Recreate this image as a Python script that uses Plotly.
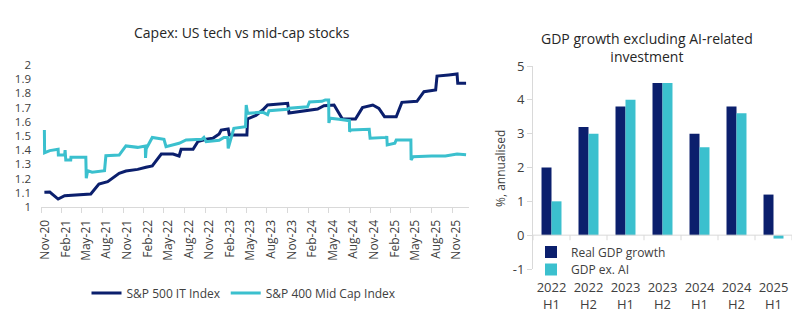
import plotly.graph_objects as go

# ---------------- Left chart data ----------------
it_dates = ["2020-11-16", "2020-12-10", "2021-01-16", "2021-02-14", "2021-06-10", "2021-07-16",
            "2021-08-24", "2021-10-14", "2021-11-13", "2022-01-04", "2022-02-10", "2022-03-10",
            "2022-04-19", "2022-06-10", "2022-07-07", "2022-07-16", "2022-09-07", "2022-09-28",
            "2022-11-04", "2022-12-04", "2023-01-01", "2023-01-10", "2023-02-10", "2023-02-15",
            "2023-05-04", "2023-05-07", "2023-06-13", "2023-07-13", "2023-08-04", "2023-09-25",
            "2023-11-01", "2023-11-07", "2024-01-19", "2024-03-13", "2024-04-10", "2024-05-25",
            "2024-07-01", "2024-08-28", "2024-09-28", "2024-10-19", "2024-11-13", "2024-12-10",
            "2025-01-04", "2025-02-25", "2025-03-22", "2025-05-28", "2025-06-28", "2025-08-19",
            "2025-08-25", "2025-10-16", "2025-11-22", "2025-11-25", "2026-01-01"]
it_values = [1.104, 1.105, 1.056, 1.080, 1.092, 1.162,
             1.178, 1.237, 1.253, 1.265, 1.280, 1.289,
             1.373, 1.373, 1.359, 1.406, 1.406, 1.460,
             1.477, 1.484, 1.514, 1.542, 1.549, 1.507,
             1.507, 1.620, 1.645, 1.683, 1.718, 1.725,
             1.730, 1.662, 1.678, 1.690, 1.713, 1.718,
             1.620, 1.620, 1.700, 1.706, 1.718, 1.695,
             1.636, 1.636, 1.737, 1.744, 1.812, 1.824,
             1.922, 1.930, 1.937, 1.871, 1.871]

mc_dates = ["2020-11-16", "2020-11-17", "2020-12-10", "2021-01-16", "2021-01-17", "2021-02-14",
            "2021-02-16", "2021-02-19", "2021-03-13", "2021-03-14", "2021-05-19", "2021-05-21",
            "2021-05-27", "2021-06-16", "2021-08-10", "2021-08-16", "2021-10-14", "2021-11-13",
            "2022-01-04", "2022-02-07", "2022-02-08", "2022-02-11", "2022-03-10", "2022-05-01",
            "2022-05-10", "2022-07-07", "2022-08-07", "2022-10-16", "2022-10-25", "2022-11-04",
            "2023-01-01", "2023-01-22", "2023-02-08", "2023-02-10", "2023-03-07", "2023-04-28",
            "2023-05-01", "2023-05-07", "2023-07-13", "2023-08-04", "2023-08-10", "2023-11-01",
            "2023-11-07", "2024-01-28", "2024-02-06", "2024-04-01", "2024-04-16", "2024-05-01",
            "2024-05-02", "2024-05-07", "2024-06-16", "2024-08-01", "2024-08-02", "2024-08-07",
            "2024-10-28", "2024-11-01", "2025-01-13", "2025-01-14", "2025-01-16", "2025-02-19",
            "2025-02-25", "2025-05-01", "2025-05-02", "2025-05-10", "2025-08-01", "2025-10-01",
            "2025-11-22", "2026-01-01"]
mc_values = [1.542, 1.382, 1.397, 1.406, 1.366, 1.366,
             1.400, 1.331, 1.331, 1.350, 1.350, 1.202,
             1.256, 1.245, 1.256, 1.361, 1.366, 1.430,
             1.420, 1.430, 1.345, 1.410, 1.490, 1.477,
             1.425, 1.449, 1.472, 1.477, 1.490, 1.460,
             1.470, 1.490, 1.490, 1.413, 1.554, 1.566,
             1.718, 1.660, 1.668, 1.650, 1.678, 1.688,
             1.695, 1.706, 1.740, 1.744, 1.754, 1.754,
             1.592, 1.625, 1.618, 1.608, 1.530, 1.542,
             1.547, 1.484, 1.490, 1.500, 1.437, 1.450,
             1.472, 1.472, 1.331, 1.354, 1.359, 1.359,
             1.373, 1.368]

x_tick_dates = ["2020-11-01", "2021-02-01", "2021-05-01", "2021-08-01", "2021-11-01", "2022-02-01",
                "2022-05-01", "2022-08-01", "2022-11-01", "2023-02-01", "2023-05-01", "2023-08-01",
                "2023-11-01", "2024-02-01", "2024-05-01", "2024-08-01", "2024-11-01", "2025-02-01",
                "2025-05-01", "2025-08-01", "2025-11-01"]
x_tick_labels = ["Nov-20", "Feb-21", "May-21", "Aug-21", "Nov-21", "Feb-22", "May-22", "Aug-22",
                 "Nov-22", "Feb-23", "May-23", "Aug-23", "Nov-23", "Feb-24", "May-24", "Aug-24",
                 "Nov-24", "Feb-25", "May-25", "Aug-25", "Nov-25"]
y_left_ticks = [1.0, 1.1, 1.2, 1.3, 1.4, 1.5, 1.6, 1.7, 1.8, 1.9, 2.0]

# ---------------- Right chart data ----------------
periods = ["2022<br>H1", "2022<br>H2", "2023<br>H1", "2023<br>H2", "2024<br>H1", "2024<br>H2", "2025<br>H1"]
real_gdp = [2.0, 3.2, 3.8, 4.5, 3.0, 3.8, 1.2]
gdp_ex_ai = [1.0, 3.0, 4.0, 4.5, 2.6, 3.6, -0.1]
y_right_ticks = [-1, 0, 1, 2, 3, 4, 5]
y_right_labels = ["-1", "0", "1", "2", "3", "4", "5"]

NAVY = "#0b1f6d"
TEAL = "#3bc0ce"
AXIS = "#d9d9d9"
TXT = "#404040"
FONT = "Open Sans"

W, H = 805, 323

fig = go.Figure()

fig.add_trace(go.Scatter(x=it_dates, y=it_values, mode="lines", name="S&P 500 IT Index",
                         line=dict(color=NAVY, width=3), xaxis="x", yaxis="y", legend="legend"))
fig.add_trace(go.Scatter(x=mc_dates, y=mc_values, mode="lines", name="S&P 400 Mid Cap Index",
                         line=dict(color=TEAL, width=3), xaxis="x", yaxis="y", legend="legend"))

fig.add_trace(go.Bar(x=periods, y=real_gdp, name="Real GDP growth", marker=dict(color=NAVY, line=dict(width=0)),
                     xaxis="x2", yaxis="y2", legend="legend2"))
fig.add_trace(go.Bar(x=periods, y=gdp_ex_ai, name="GDP ex. AI", marker=dict(color=TEAL, line=dict(width=0)),
                     xaxis="x2", yaxis="y2", legend="legend3"))

# Right chart: horizontal axis line at zero with tick marks between categories
shapes = [dict(type="line", xref="x2", yref="y2", x0=-0.5, x1=6.5, y0=0, y1=0,
               line=dict(color=AXIS, width=1), layer="above")]
for i in range(len(periods) + 1):
    shapes.append(dict(type="line", xref="x2", yref="y2", x0=i - 0.5, x1=i - 0.5, y0=0, y1=-0.15,
                       line=dict(color=AXIS, width=1), layer="above"))

legend_common = dict(bgcolor="rgba(0,0,0,0)", itemwidth=30, borderwidth=0)

fig.update_layout(
    width=W, height=H,
    margin=dict(l=0, r=0, t=0, b=0, pad=0, autoexpand=False),
    paper_bgcolor="white", plot_bgcolor="white",
    font=dict(family=FONT, size=12, color=TXT),
    showlegend=True,
    bargap=0.46, bargroupgap=0,
    xaxis=dict(domain=[41 / W, 469 / W], type="date",
               range=["2020-11-01", "2026-01-14"],
               tickvals=x_tick_dates, ticktext=x_tick_labels, tickangle=-90,
               ticks="outside", ticklen=5, tickcolor=AXIS,
               showline=True, linecolor=AXIS, linewidth=1,
               showgrid=False, zeroline=False, ticklabelshift=4, ticklabelstandoff=2,
               tickfont=dict(size=12, color=TXT), anchor="y", automargin=False),
    yaxis=dict(domain=[1 - 207 / H, 1 - 65 / H], range=[1, 2],
               tickvals=y_left_ticks, ticks="", showline=False, showgrid=False, zeroline=False,
               tickfont=dict(size=11.5, color=TXT), ticklabelstandoff=9, anchor="x", automargin=False),
    xaxis2=dict(domain=[533 / W, 792 / W], range=[-0.5, 6.5], type="category",
                showline=False, ticks="", showgrid=False, zeroline=False,
                tickfont=dict(size=13, color=TXT), ticklabelstandoff=9, anchor="y2", automargin=False),
    yaxis2=dict(domain=[1 - 269 / H, 1 - 66 / H], range=[-1, 5],
                tickvals=y_right_ticks, ticktext=y_right_labels,
                ticks="outside", ticklen=5, tickcolor=AXIS,
                showline=True, linecolor=AXIS, linewidth=1,
                showgrid=False, zeroline=False,
                tickfont=dict(size=13, color=TXT), anchor="x2", automargin=False),
    legend=dict(orientation="h", x=244 / W, xanchor="center", y=1 - 293 / H, yanchor="middle",
                font=dict(size=12, color=TXT), **legend_common),
    legend2=dict(orientation="v", x=531 / W, xanchor="left", y=1 - 252 / H, yanchor="middle",
                 font=dict(size=12, color=TXT), **legend_common),
    legend3=dict(orientation="v", x=531 / W, xanchor="left", y=1 - 269.5 / H, yanchor="middle",
                 font=dict(size=12, color=TXT), **legend_common),
    shapes=shapes,
    annotations=[
        dict(text="Capex: US tech vs mid-cap stocks", xref="paper", yref="paper",
             x=242 / W, y=1 - 33 / H, xanchor="center", yanchor="middle", showarrow=False,
             font=dict(size=14, color="#262626")),
        dict(text="GDP growth excluding AI-related<br>investment", xref="paper", yref="paper",
             x=647 / W, y=1 - 47 / H, xanchor="center", yanchor="middle", showarrow=False,
             font=dict(size=14, color="#262626")),
        dict(text="%, annualised", xref="paper", yref="paper", textangle=-90,
             x=500 / W, y=1 - 168 / H, xanchor="center", yanchor="middle", showarrow=False,
             font=dict(size=12, color=TXT)),
    ],
)

fig.write_html("out.html")
